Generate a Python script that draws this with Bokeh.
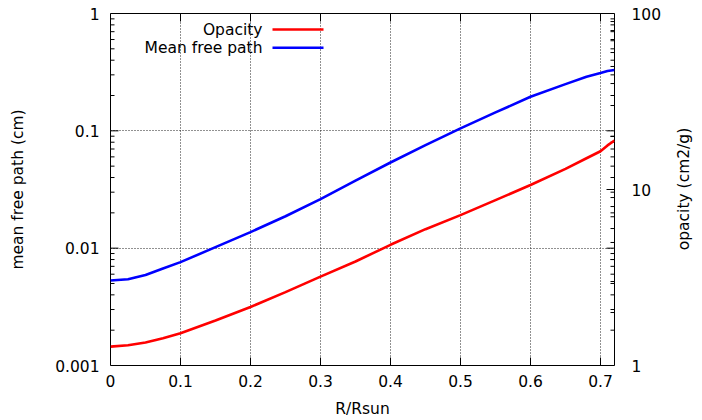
import math
from bokeh.plotting import figure
from bokeh.models import (Range1d, LogScale, LogAxis, FixedTicker,
                          Label, BoxAnnotation, ColumnDataSource)
from bokeh.embed import file_html
from bokeh.resources import INLINE

# ---- data ----
r_rsun = [0.0, 0.025, 0.05, 0.075, 0.1, 0.15, 0.2, 0.25, 0.3, 0.35, 0.4, 0.45,
          0.5, 0.55, 0.6, 0.65, 0.68, 0.7, 0.71, 0.72]
mean_free_path = [0.0053, 0.00544, 0.0059, 0.0067, 0.0076, 0.0102, 0.0137, 0.0187,
                  0.0262, 0.0376, 0.0537, 0.0755, 0.105, 0.1435, 0.195, 0.25, 0.2895,
                  0.311, 0.3236, 0.33]
opacity = [1.28, 1.303, 1.352, 1.429, 1.524, 1.80, 2.15, 2.61, 3.2, 3.90, 4.85, 5.95,
           7.15, 8.7, 10.6, 13.1, 15.05, 16.5, 17.8, 19.0]

x_min, x_max = 0.0, 0.72
mfp_min, mfp_max = 0.001, 1.0
op_min, op_max = 1.0, 100.0

x_ticks = [0.0, 0.1, 0.2, 0.3, 0.4, 0.5, 0.6, 0.7]
x_tick_labels = ["0", "0.1", "0.2", "0.3", "0.4", "0.5", "0.6", "0.7"]
left_ticks = [0.001, 0.01, 0.1, 1.0]
left_tick_labels = ["0.001", "0.01", "0.1", "1"]
right_ticks = [1.0, 10.0, 100.0]
right_tick_labels = ["1", "10", "100"]

left_minor = [k * 10.0 ** e for e in (-3, -2, -1) for k in range(2, 10)]
right_minor = [k * 10.0 ** e for e in (0, 1) for k in range(2, 10)]

FONT = "DejaVu Sans"
FS = "15.5px"

p = figure(width=702, height=420, x_range=Range1d(x_min, x_max),
           y_range=Range1d(mfp_min, mfp_max),
           y_axis_type="log", output_backend="svg", toolbar_location=None,
           min_border_left=110, min_border_right=88, min_border_top=13, min_border_bottom=54)
p.extra_y_ranges = {"op": Range1d(op_min, op_max)}
p.extra_y_scales = {"op": LogScale()}
p.outline_line_color = "black"
p.outline_line_width = 1
p.background_fill_color = "white"
p.border_fill_color = "white"

def style_axis(ax):
    ax.axis_line_color = None
    ax.major_tick_in = 0
    ax.major_tick_out = 0
    ax.minor_tick_in = 0
    ax.minor_tick_out = 0
    ax.major_label_text_font = FONT
    ax.major_label_text_font_size = FS
    ax.major_label_text_color = "black"
    ax.axis_label_text_font = FONT
    ax.axis_label_text_font_size = FS
    ax.axis_label_text_font_style = "normal"
    ax.axis_label_text_color = "black"

# bottom x axis
xa = p.xaxis[0]
style_axis(xa)
xa.ticker = FixedTicker(ticks=x_ticks)
xa.major_label_overrides = dict(zip(x_ticks, x_tick_labels))
xa.axis_label = "R/Rsun"
xa.major_label_standoff = 9
xa.axis_label_standoff = 10

# left y axis
ya = p.yaxis[0]
style_axis(ya)
ya.ticker = FixedTicker(ticks=left_ticks, minor_ticks=left_minor)
ya.major_label_overrides = dict(zip(left_ticks, left_tick_labels))
ya.axis_label = "mean free path (cm)"
ya.major_label_standoff = 11
ya.axis_label_standoff = 25

# right y2 axis (opacity)
y2 = LogAxis(y_range_name="op", ticker=FixedTicker(ticks=right_ticks, minor_ticks=right_minor))
style_axis(y2)
y2.major_label_overrides = dict(zip(right_ticks, right_tick_labels))
y2.major_label_standoff = 17
p.add_layout(y2, "right")
# its title: a rotated label (reads bottom-to-top) placed in the right side panel
p.add_layout(Label(x=19, y=176.5, x_units="screen", y_units="screen", text="opacity (cm2/g)",
                   angle=math.pi / 2, text_align="center", text_baseline="middle",
                   text_font=FONT, text_font_size=FS, text_color="black"), "right")

# grid
p.xgrid.ticker = FixedTicker(ticks=x_ticks)
p.ygrid.ticker = FixedTicker(ticks=left_ticks)
for g in (p.xgrid[0], p.ygrid[0]):
    g.grid_line_color = "#222222"
    g.grid_line_dash = "1 2"
    g.grid_line_width = 1
    g.minor_grid_line_color = None

# gnuplot-style inward ticks drawn as short rays (screen-length) from the frame edges
MAJ, MIN = 8, 4
TK = dict(line_color="black", line_width=1, length_units="screen")
p.ray([x_min] * len(left_ticks), left_ticks, length=MAJ, angle=0, **TK)
p.ray([x_min] * len(left_minor), left_minor, length=MIN, angle=0, **TK)
p.ray([x_max] * len(left_ticks), left_ticks, length=MAJ, angle=math.pi, **TK)
p.ray([x_max] * len(left_minor), left_minor, length=MIN, angle=math.pi, **TK)
p.ray([x_max] * len(right_ticks), right_ticks, y_range_name="op", length=MAJ, angle=math.pi, **TK)
p.ray([x_max] * len(right_minor), right_minor, y_range_name="op", length=MIN, angle=math.pi, **TK)
p.ray(x_ticks, [mfp_min] * len(x_ticks), length=MAJ, angle=math.pi / 2, **TK)
p.ray(x_ticks, [mfp_max] * len(x_ticks), length=MAJ, angle=-math.pi / 2, **TK)

src = ColumnDataSource(dict(r=r_rsun, mfp=mean_free_path, op=opacity))
p.line("r", "op", source=src, y_range_name="op", line_color="#ff0000", line_width=2.6)
p.line("r", "mfp", source=src, line_color="#0000ff", line_width=2.6)

# gnuplot-style key: text right-aligned, sample line to the right (screen units, frame relative)
key_rows = [("Opacity", "#ff0000", 336.0), ("Mean free path", "#0000ff", 317.7)]
for txt, col, yy in key_rows:
    p.add_layout(Label(x=152, y=yy, x_units="screen", y_units="screen", text=txt,
                       text_align="right", text_baseline="middle",
                       text_font=FONT, text_font_size=FS, text_color="black"))
    p.add_layout(BoxAnnotation(left=162, right=213, bottom=yy - 1.3, top=yy + 1.3,
                               left_units="screen", right_units="screen",
                               bottom_units="screen", top_units="screen",
                               fill_color=col, fill_alpha=1.0, line_color=None))

open("out.html", "w").write(file_html(p, INLINE))
